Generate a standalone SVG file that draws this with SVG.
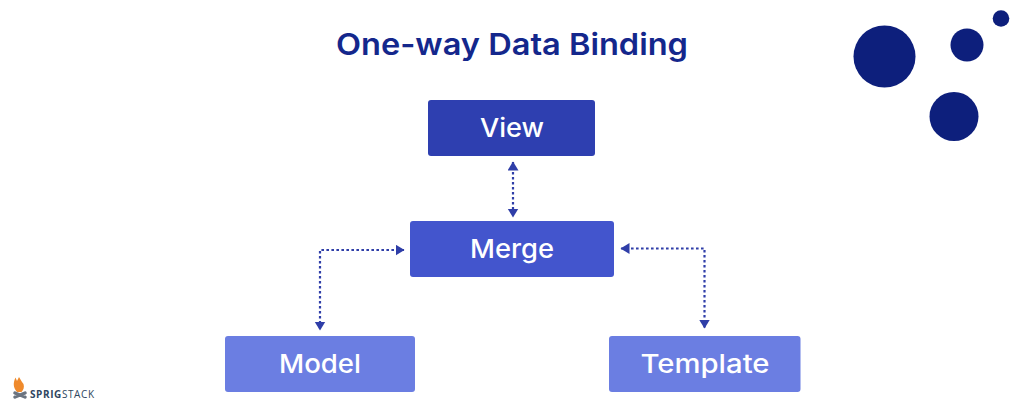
<svg xmlns="http://www.w3.org/2000/svg" width="1024" height="412" viewBox="0 0 1024 412">
<style>
.t{font-family:"Inter","Noto Sans",sans-serif;font-weight:500;font-size:26px;fill:#fff;text-anchor:middle}
.c{fill:none;stroke:#2f3ea8;stroke-width:2.200;stroke-dasharray:2.600 2.400}
.d{fill:#0d1f7c}
</style>
<defs>
<marker id="a" markerUnits="userSpaceOnUse" markerWidth="10" markerHeight="12" refX="8.500" refY="5.500" orient="auto-start-reverse"><path d="M0 0L9 5.500L0 11Z" fill="#2f3ea8"/></marker>
</defs>
<rect width="1024" height="412" fill="#fff"/>
<text x="512" y="55" font-family="Inter,'Noto Sans',sans-serif" font-weight="600" font-size="30" fill="#14278c" text-anchor="middle" textLength="352" lengthAdjust="spacingAndGlyphs">One-way Data Binding</text>
<g id="decor"><circle class="d" cx="884.500" cy="56.500" r="31"/><circle class="d" cx="967" cy="45" r="16.500"/><circle class="d" cx="1001" cy="18.500" r="8.300"/><circle class="d" cx="954" cy="116.500" r="24.500"/></g>
<g id="connectors">
<path class="c" d="M513 162V217" marker-start="url(#a)" marker-end="url(#a)"/>
<path class="c" d="M404 250H320V330" marker-start="url(#a)" marker-end="url(#a)"/>
<path class="c" d="M621 248.500H704.500V328" marker-start="url(#a)" marker-end="url(#a)"/>
</g>
<g id="view"><rect x="428" y="100" width="167" height="56" rx="3" fill="#2e3fb0"/><text class="t" x="512" y="137" textLength="64" lengthAdjust="spacingAndGlyphs">View</text></g>
<g id="merge"><rect x="410" y="221" width="204" height="56" rx="3" fill="#4355cd"/><text class="t" x="512" y="258" textLength="84" lengthAdjust="spacingAndGlyphs">Merge</text></g>
<g id="model"><rect x="225" y="336" width="190" height="56" rx="3" fill="#6b7ee2"/><text class="t" x="320" y="373" textLength="82" lengthAdjust="spacingAndGlyphs">Model</text></g>
<g id="template"><rect x="609" y="336" width="191.500" height="56" rx="3" fill="#6b7ee2"/><text class="t" x="705" y="373" textLength="129" lengthAdjust="spacingAndGlyphs">Template</text></g>
<g id="logo">
<path d="M17 392C13 387 13 383 15.500 377.500L17 381L19 377L22 382L23.500 384C24.500 387 23.500 390 21.500 392Z" fill="#ef8a2c"/>
<path d="M15 393L25 397M25 393L15 397" stroke="#6b7480" stroke-width="3.500" stroke-linecap="round"/>
<text x="30" y="398" font-family="'Open Sans','Noto Sans',sans-serif" font-size="10" letter-spacing="1" fill="#2f4660" textLength="65"><tspan font-weight="700">SPRIG</tspan><tspan font-weight="400">STACK</tspan></text>
</g>
</svg>
